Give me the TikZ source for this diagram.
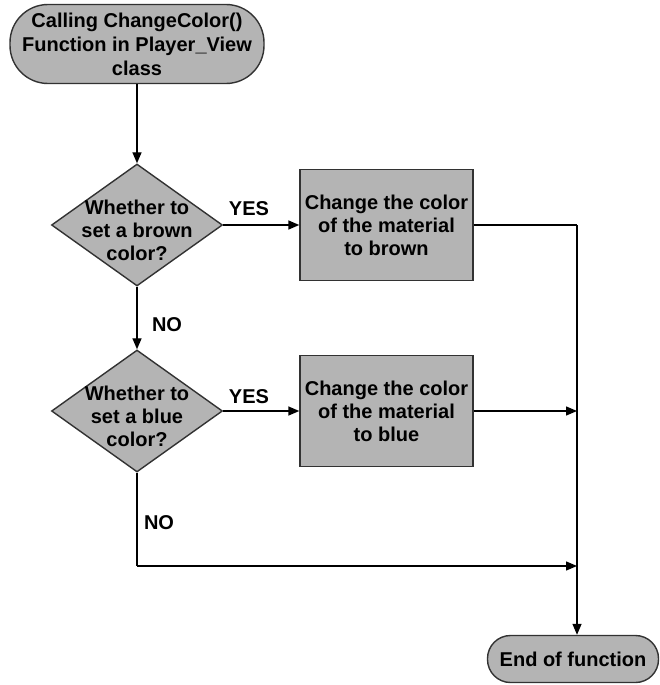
\documentclass[tikz,border=0pt]{standalone}
\usepackage{fontspec}
\setmainfont{Liberation Sans}
\usetikzlibrary{shapes.geometric,arrows.meta}
\definecolor{boxfill}{RGB}{180,180,180}
\definecolor{edge}{RGB}{50,50,50}
\begin{document}
\begin{tikzpicture}[x=1pt,y=-1pt,
  txt/.style={font=\fontsize{20}{23}\selectfont\bfseries, align=center},
  terminal/.style={draw=edge, line width=1.4pt, fill=boxfill, rounded corners=23pt, inner sep=0pt, txt},
  process/.style={draw=edge, line width=1.4pt, fill=boxfill, minimum width=173pt, minimum height=111pt, inner sep=0pt, txt},
  decision/.style={diamond, draw=edge, line width=1.4pt, fill=boxfill, minimum width=171pt, minimum height=122pt, inner sep=0pt},
  dtext/.style={txt, inner sep=0pt, yshift=-5pt},
  flow/.style={line width=1.4pt, draw=black, -{Triangle[length=11pt,width=9pt]}},
  line/.style={line width=1.4pt, draw=black},
  tag/.style={txt, inner sep=0pt}]
\useasboundingbox (0,0) rectangle (659,685);

% start and end terminals
\node[terminal, minimum width=254pt, minimum height=79pt, rounded corners=38pt,
      font=\fontsize{20}{24}\selectfont\bfseries] (start) at (137,44)
  {Calling ChangeColor()\\Function in Player\_View\\class};
\node[terminal, minimum width=171pt, minimum height=47pt] (stop) at (573,659) {End of function};

% decisions
\node[decision, label={[dtext]center:Whether to\\set a brown\\color?}] (d1) at (137,225) {};
\node[decision, label={[dtext]center:Whether to\\set a blue\\color?}] (d2) at (137,411) {};

% actions
\node[process] (b1) at (386.5,225) {Change the color\\of the material\\to brown};
\node[process] (b2) at (386.5,411) {Change the color\\of the material\\to blue};

% merge column
\coordinate (m1) at (577,225);
\coordinate (m2) at (577,411);
\coordinate (m3) at (577,566);
\coordinate (n3) at (137,566);

% branch labels
\node[tag] (yes1) at (249,209) {YES};
\node[tag] (no1) at (167,325) {NO};
\node[tag] (yes2) at (249,397) {YES};
\node[tag] (no2) at (159,523) {NO};

% connectors
\draw[flow] (start) -- (d1);
\draw[flow] (d1) -- (b1);
\draw[flow] (d1) -- (d2);
\draw[flow] (d2) -- (b2);
\draw[line] (b1.east) -- (m1);
\draw[flow] (m1) -- (m1 |- stop.north);
\draw[flow] (b2.east) -- (m2);
\draw[line] (d2.south) -- (n3);
\draw[flow] (n3) -- (m3);
\end{tikzpicture}
\end{document}
